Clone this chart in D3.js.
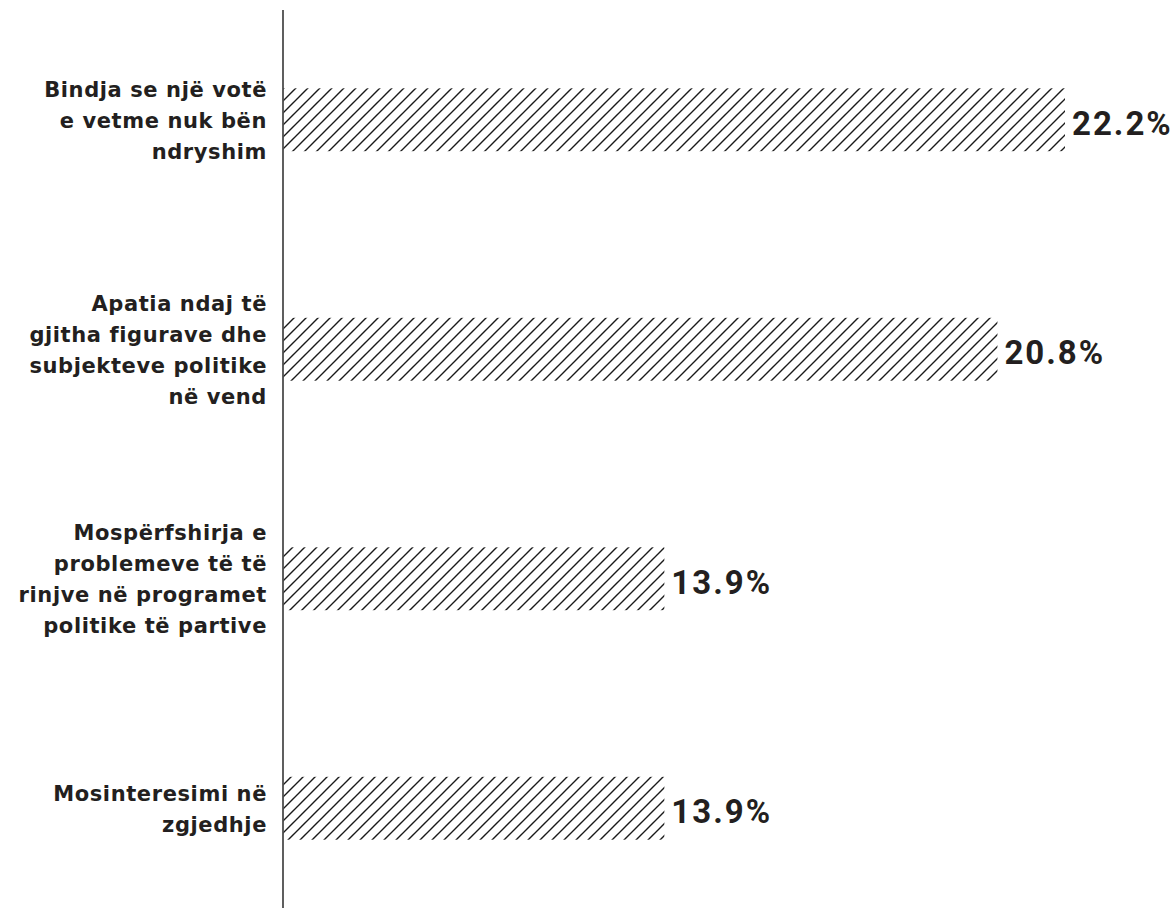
<!DOCTYPE html>
<html lang="sq">
<head>
<meta charset="UTF-8" />
<title>Arsyet e mosvotimit</title>
<style>
  body { margin: 0; padding: 0; background: #ffffff; }
  svg { display: block; font-family: Roboto, "Liberation Sans", sans-serif; }
</style>
</head>
<body>
<div id="chart"></div>
<script src="https://d3js.org/d3.v7.min.js"></script>
<script>
const categories = [
  ["Bindja se një votë", "e vetme nuk bën", "ndryshim"],
  ["Apatia ndaj të", "gjitha figurave dhe", "subjekteve politike", "në vend"],
  ["Mospërfshirja e", "problemeve të të", "rinjve në programet", "politike të partive"],
  ["Mosinteresimi në", "zgjedhje"]
];
const values = [22.2, 20.8, 13.9, 13.9];
const valueLabels = ["22.2%", "20.8%", "13.9%", "13.9%"];

const width = 1175, height = 908;
const axisX = 283;

const svg = d3.select('#chart').append('svg').attr('width', width).attr('height', height);

// hatch fill
const defs = svg.append('defs');
const pat = defs.append('pattern')
  .attr('id', 'hatch')
  .attr('patternUnits', 'userSpaceOnUse')
  .attr('width', 12).attr('height', 12);
pat.append('path')
  .attr('d', 'M-3,3 L3,-3 M0,12 L12,0 M9,15 L15,9')
  .attr('stroke', '#1a1a1a')
  .attr('stroke-width', 1.4)
  .attr('fill', 'none');

const ids = d3.range(values.length);

const y = d3.scaleBand()
  .domain(ids)
  .range([5, 923])
  .paddingInner(0.726)
  .paddingOuter(0.363);

const x = d3.scaleLinear()
  .domain([6, 22.2])
  .range([axisX, 1065]);

// bars
svg.append('g').selectAll('rect')
  .data(ids)
  .join('rect')
  .attr('x', axisX)
  .attr('y', i => y(i))
  .attr('width', i => x(values[i]) - axisX)
  .attr('height', y.bandwidth())
  .attr('fill', 'url(#hatch)');

// value labels
svg.append('g').selectAll('text')
  .data(ids)
  .join('text')
  .attr('x', i => x(values[i]) + 7)
  .attr('y', i => y(i) + y.bandwidth() / 2 + 15)
  .attr('font-size', 33)
  .attr('font-weight', 700)
  .attr('letter-spacing', 2)
  .attr('fill', '#231f20')
  .text(i => valueLabels[i]);

// category labels
const lh = 31;
const cat = svg.append('g').selectAll('text')
  .data(ids)
  .join('text')
  .attr('text-anchor', 'end')
  .attr('font-family', '"DejaVu Sans", sans-serif')
  .attr('font-size', 21)
  .attr('font-weight', 700)
  .attr('letter-spacing', 0.6)
  .attr('fill', '#231f20');

cat.each(function (i) {
  const lines = categories[i];
  const cy = y(i) + y.bandwidth() / 2 + 8;
  d3.select(this).selectAll('tspan')
    .data(lines)
    .join('tspan')
    .attr('x', 267)
    .attr('y', (d, k) => cy + (k - (lines.length - 1) / 2) * lh)
    .text(d => d);
});

// vertical axis line
svg.append('line')
  .attr('x1', axisX).attr('x2', axisX)
  .attr('y1', 10).attr('y2', height)
  .attr('stroke', '#4d4d4d')
  .attr('stroke-width', 1.8);
</script>
</body>
</html>
